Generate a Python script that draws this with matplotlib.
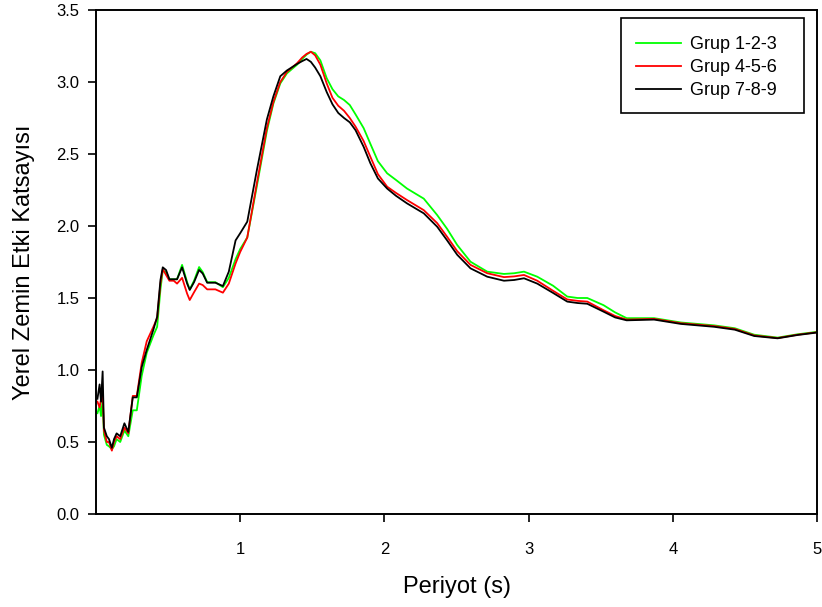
import matplotlib
matplotlib.use("Agg")
import matplotlib.pyplot as plt
from matplotlib.patches import Rectangle

plt.rcParams['font.family'] = ['Liberation Sans', 'DejaVu Sans']

period = [0.010, 0.025, 0.035, 0.046, 0.055, 0.075, 0.090, 0.110, 0.125, 0.143,
          0.168, 0.197, 0.224, 0.255, 0.283, 0.317, 0.352, 0.398, 0.424, 0.447,
          0.463, 0.486, 0.509, 0.539, 0.562, 0.597, 0.632, 0.650, 0.680, 0.715,
          0.740, 0.771, 0.828, 0.880, 0.921, 0.968, 1.000, 1.049, 1.116, 1.185,
          1.230, 1.278, 1.324, 1.394, 1.430, 1.460, 1.490, 1.520, 1.556, 1.600,
          1.640, 1.680, 1.720, 1.760, 1.800, 1.856, 1.903, 1.955, 2.019, 2.080,
          2.157, 2.273, 2.366, 2.435, 2.505, 2.597, 2.713, 2.829, 2.900, 2.968,
          3.060, 3.170, 3.268, 3.340, 3.407, 3.520, 3.600, 3.680, 3.870, 4.056,
          4.287, 4.430, 4.565, 4.727, 4.865, 5.000]

grup_123 = [0.70, 0.75, 0.68, 0.80, 0.55, 0.48, 0.47, 0.45, 0.47, 0.52,
            0.50, 0.58, 0.54, 0.72, 0.72, 0.96, 1.12, 1.24, 1.30, 1.56,
            1.69, 1.68, 1.63, 1.63, 1.63, 1.73, 1.61, 1.56, 1.62, 1.715,
            1.68, 1.61, 1.61, 1.575, 1.64, 1.77, 1.84, 1.92, 2.28, 2.66,
            2.85, 2.99, 3.06, 3.12, 3.16, 3.19, 3.21, 3.20, 3.15, 3.026,
            2.95, 2.90, 2.875, 2.84, 2.775, 2.68, 2.57, 2.45, 2.366, 2.32,
            2.26, 2.19, 2.076, 1.98, 1.868, 1.752, 1.683, 1.667, 1.672, 1.683,
            1.648, 1.585, 1.51, 1.50, 1.50, 1.45, 1.40, 1.36, 1.36, 1.33,
            1.31, 1.29, 1.245, 1.225, 1.248, 1.265]

grup_456 = [0.78, 0.74, 0.80, 0.84, 0.58, 0.50, 0.50, 0.44, 0.50, 0.54,
            0.52, 0.60, 0.56, 0.82, 0.82, 1.05, 1.20, 1.30, 1.36, 1.60,
            1.70, 1.66, 1.62, 1.62, 1.60, 1.64, 1.53, 1.486, 1.54, 1.60,
            1.59, 1.56, 1.56, 1.537, 1.60, 1.74, 1.82, 1.92, 2.30, 2.68,
            2.86, 3.00, 3.07, 3.13, 3.17, 3.195, 3.21, 3.185, 3.12, 2.99,
            2.89, 2.835, 2.80, 2.75, 2.69, 2.59, 2.48, 2.36, 2.273, 2.23,
            2.18, 2.11, 2.02, 1.925, 1.825, 1.73, 1.672, 1.645, 1.65, 1.66,
            1.62, 1.55, 1.49, 1.48, 1.475, 1.415, 1.375, 1.35, 1.355, 1.325,
            1.305, 1.285, 1.24, 1.222, 1.245, 1.262]

grup_789 = [0.80, 0.90, 0.78, 0.99, 0.60, 0.54, 0.52, 0.46, 0.52, 0.56,
            0.54, 0.63, 0.57, 0.81, 0.81, 1.02, 1.14, 1.28, 1.37, 1.625,
            1.713, 1.694, 1.63, 1.63, 1.63, 1.713, 1.60, 1.556, 1.61, 1.695,
            1.67, 1.606, 1.606, 1.583, 1.683, 1.90, 1.95, 2.03, 2.39, 2.74,
            2.90, 3.04, 3.08, 3.125, 3.145, 3.16, 3.14, 3.10, 3.04, 2.93,
            2.845, 2.785, 2.75, 2.72, 2.665, 2.55, 2.435, 2.33, 2.26, 2.21,
            2.157, 2.088, 1.995, 1.90, 1.80, 1.706, 1.648, 1.62, 1.625, 1.637,
            1.60, 1.535, 1.475, 1.465, 1.46, 1.405, 1.365, 1.345, 1.35, 1.32,
            1.30, 1.28, 1.236, 1.22, 1.243, 1.26]

labels = ["Grup 1-2-3", "Grup 4-5-6", "Grup 7-8-9"]
colors = ["#00ff00", "#ff0000", "#000000"]
xticks = [1, 2, 3, 4, 5]
yticks = [0.0, 0.5, 1.0, 1.5, 2.0, 2.5, 3.0, 3.5]

fig = plt.figure(figsize=(8.22, 6.07), dpi=100)
ax = fig.add_axes([96/822, 93/607, 721/822, 504/607])

for ys, lab, c in zip([grup_123, grup_456, grup_789], labels, colors):
    ax.plot(period, ys, color=c, lw=1.3, label=lab)

ax.set_xlim(0, 5)
ax.set_ylim(0, 3.5)
ax.set_xticks(xticks)
ax.set_xticklabels([str(t) for t in xticks])
ax.set_yticks(yticks)
ax.set_yticklabels([f"{t:.1f}" for t in yticks])
ax.tick_params(axis='both', direction='out', length=6, width=1.2, labelsize=12,
               top=False, right=False)
ax.tick_params(axis='x', pad=14)
ax.tick_params(axis='y', pad=6)
for s in ax.spines.values():
    s.set_linewidth(1.4)

ax.set_xlabel("Periyot (s)", fontsize=17, labelpad=13.5)
ax.set_ylabel("Yerel Zemin Etki Katsayısı", fontsize=17, labelpad=15.5)

# legend box (frame drawn separately to match the original padding)
ax.add_patch(Rectangle(((621-96)/721, (514-113)/504), (804-621)/721, (113-18)/504,
                       transform=ax.transAxes, fill=True, facecolor='white',
                       edgecolor='black', lw=1.2, zorder=4))
leg = ax.legend(loc='upper left', bbox_to_anchor=((636-96)/721, (514-36)/504),
                borderaxespad=0, borderpad=0, fontsize=13, handlelength=2.5,
                handletextpad=0.5, labelspacing=0.33, frameon=False)
leg.set_zorder(5)

fig.savefig("out.png", dpi=100)
